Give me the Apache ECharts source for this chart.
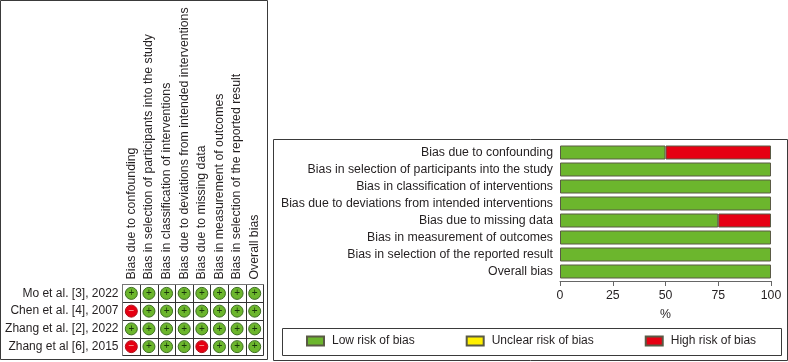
<!DOCTYPE html>
<html><head><meta charset="utf-8">
<style>html,body{margin:0;padding:0;background:#fff}#c{width:788px;height:362px}</style>
<script src="https://cdn.jsdelivr.net/npm/echarts@6/dist/echarts.min.js"></script>
</head><body><div id="c"></div>
<script>
const domains = ["Bias due to confounding","Bias in selection of participants into the study","Bias in classification of interventions","Bias due to deviations from intended interventions","Bias due to missing data","Bias in measurement of outcomes","Bias in selection of the reported result","Overall bias"];
const studies = ["Mo et al. [3], 2022","Chen et al. [4], 2007","Zhang et al. [2], 2022","Zhang et al [6], 2015"];
const mo = ["+","+","+","+","+","+","+","+"];
const chen = ["-","+","+","+","+","+","+","+"];
const zhang2 = ["+","+","+","+","+","+","+","+"];
const zhang6 = ["-","+","+","+","-","+","+","+"];
const lowRisk = [50,100,100,100,75,100,100,100];
const unclearRisk = [0,0,0,0,0,0,0,0];
const highRisk = [50,0,0,0,25,0,0,0];
const GREEN="#6cb62d", RED="#e60012", YELLOW="#fff000", TXT="#231f20", F="Liberation Sans";
const rows=[mo,chen,zhang2,zhang6];
const pts=[];
rows.forEach((r,ri)=>r.forEach((v,ci)=>pts.push({value:[domains[ci],studies[ri]],mark:v,
  itemStyle:{color:v==="+"?GREEN:RED,borderColor:v==="+"?"#3c6e20":"#b0101a"},
  label:{color:v==="+"?"#17350a":"#f7b9b0"}})));
const frame=(x,y,w,h)=>({type:'rect',shape:{x:x+.5,y:y+.5,width:w,height:h},style:{fill:'none',stroke:'#3a3a3a',lineWidth:1},silent:true});
const barSeries=(name,data,color)=>({name,type:'bar',stack:'r',xAxisIndex:1,yAxisIndex:1,data:data.map(v=>v||null),barWidth:14,
  itemStyle:{color,borderColor:'#5a5a45',borderWidth:1}});
const chart=echarts.init(document.getElementById('c'),null,{renderer:'canvas'});
chart.setOption({
  animation:false,backgroundColor:'#fff',textStyle:{fontFamily:F,color:TXT},
  graphic:[frame(0,0,267,359),frame(273,139,514,221),frame(282,328,499,27)],
  grid:[{left:122.5,top:284.5,width:141,height:71},{left:560,top:144,width:211,height:136}],
  xAxis:[
    {type:'category',gridIndex:0,position:'top',data:domains,
     axisTick:{show:false},axisLine:{lineStyle:{color:'#777'}},
     splitLine:{show:true,showMinLine:true,showMaxLine:true,lineStyle:{color:'#333',width:1}},
     axisLabel:{rotate:-90,interval:0,fontSize:12.3,margin:5,padding:[0,0,3,0],color:TXT,fontFamily:F}},
    {type:'value',gridIndex:1,min:0,max:100,interval:25,position:'bottom',offset:1,
     name:'%',nameLocation:'middle',nameGap:28,nameTextStyle:{fontSize:12.3,color:TXT,fontFamily:F},
     splitLine:{show:false},axisLine:{show:true,onZero:false,lineStyle:{color:'#666'}},
     axisTick:{show:true,length:5,lineStyle:{color:'#666'}},
     axisLabel:{fontSize:12.3,margin:9,color:TXT,fontFamily:F}}
  ],
  yAxis:[
    {type:'category',gridIndex:0,inverse:true,data:studies,
     axisTick:{show:false},axisLine:{lineStyle:{color:'#777'}},
     splitLine:{show:true,showMinLine:true,showMaxLine:true,lineStyle:{color:'#333',width:1}},
     axisLabel:{interval:0,fontSize:12,margin:4,color:TXT,fontFamily:F}},
    {type:'category',gridIndex:1,inverse:true,data:domains,
     axisTick:{show:false},axisLine:{show:false},splitLine:{show:false},
     axisLabel:{interval:0,fontSize:12.3,margin:7,color:TXT,fontFamily:F}}
  ],
  legend:{left:306,top:335,itemWidth:17,itemHeight:9,itemGap:51,padding:0,selectedMode:false,
    icon:'rect',data:["Low risk of bias","Unclear risk of bias","High risk of bias"],
    textStyle:{fontSize:12,color:TXT,fontFamily:F,padding:[0,0,0,3]}},
  series:[
    {type:'scatter',xAxisIndex:0,yAxisIndex:0,symbol:'circle',symbolSize:12,data:pts,
     itemStyle:{borderWidth:1,opacity:1},
     label:{show:true,position:'inside',formatter:p=>p.data.mark==="+"?"+":"\u2212",fontSize:10,fontFamily:F}},
    barSeries("Low risk of bias",lowRisk,GREEN),
    barSeries("Unclear risk of bias",unclearRisk,YELLOW),
    barSeries("High risk of bias",highRisk,RED)
  ]
});
</script></body></html>
